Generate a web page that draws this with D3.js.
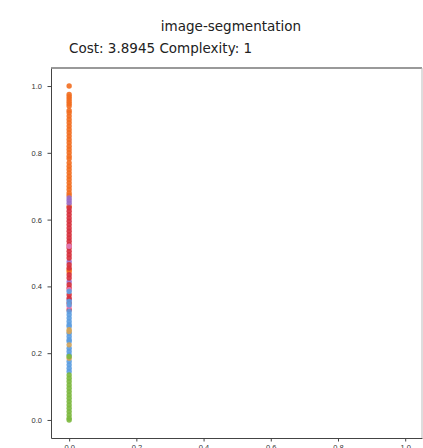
<!DOCTYPE html>
<html lang="en">
    <head>
        <meta charset="utf-8">
        <title>image-segmentation</title>
        <script type="text/javascript" src="https://d3js.org/d3.v7.min.js"></script>
        <style>
            body { margin: 0; background: #fff; }
            svg { display: block; font-family: "DejaVu Sans", sans-serif; }
            .axis text { font-size: 7.5px; fill: #333; }
            .axis path, .axis line { stroke: #444; }
        </style>
    </head>
    <body>
        <script>
            // data: all points sit at x = 0, one y list per class
            const yPath = [1.0, 0.975, 0.968, 0.961, 0.954, 0.947, 0.940, 0.927, 0.92, 0.91, 0.90, 0.89, 0.88,
                           0.87, 0.86, 0.85, 0.84, 0.83, 0.82, 0.81, 0.80, 0.79, 0.782, 0.77, 0.76, 0.75, 0.74,
                           0.73, 0.72, 0.71, 0.70, 0.69, 0.68, 0.672, 0.64, 0.444, 0.45];
            const yWindow = [0.665, 0.657, 0.649, 0.474, 0.414, 0.36];
            const yBrickface = [0.635, 0.625, 0.615, 0.605, 0.595, 0.585, 0.575, 0.565, 0.555, 0.545, 0.535,
                                0.525, 0.515, 0.505, 0.495, 0.485, 0.465, 0.455, 0.435, 0.425, 0.405, 0.395,
                                0.375, 0.365, 0.35, 0.33];
            const yCement = [0.52, 0.39, 0.34];
            const ySky = [0.385, 0.355, 0.345, 0.325, 0.315, 0.305, 0.295, 0.285, 0.28, 0.26, 0.25, 0.24,
                          0.235, 0.215, 0.205, 0.195, 0.175, 0.165, 0.155, 0.145];
            const yFoliage = [0.27, 0.265, 0.225, 0.185];
            const yGrass = [0.19, 0.135, 0.125, 0.115, 0.105, 0.095, 0.085, 0.075, 0.065, 0.055, 0.045,
                            0.035, 0.025, 0.015, 0.005, 0.0];
            const classNames = ["path", "window", "brickface", "cement", "sky", "foliage", "grass"];
            const classColors = ["#f26d1f", "#9a6cc4", "#d6303c", "#e07bb8", "#5c9de0", "#d2a35a", "#7cb83e"];
            const classValues = [yPath, yWindow, yBrickface, yCement, ySky, yFoliage, yGrass];
            const xTicks = [0.0, 0.2, 0.4, 0.6, 0.8, 1.0];
            const yTicks = [0.0, 0.2, 0.4, 0.6, 0.8, 1.0];

            const w = 423;
            const h = 448;
            const svg = d3.select("body")
                        .append("svg")
                        .attr("width", w)
                        .attr("height", h);

            // plot area edges
            const padLeft = 51, padRight = 422, padTop = 68, padBottom = 438;

            const xScale = d3.scaleLinear()
                            .domain([-0.054, 1.05])
                            .range([padLeft, padRight]);
            const yScale = d3.scaleLinear()
                            .domain([-0.054, 1.054])
                            .range([padBottom, padTop]);

            // titles
            svg.append("text")
                .attr("x", 231)
                .attr("y", 31)
                .attr("text-anchor", "middle")
                .style("font-size", "13.5px")
                .style("fill", "#222")
                .text("image-segmentation");
            svg.append("text")
                .attr("x", 69)
                .attr("y", 53)
                .style("font-size", "13.5px")
                .style("fill", "#222")
                .text("Cost: 3.8945 Complexity: 1");

            // points
            const points = [];
            classValues.forEach(function(vals, i) {
                vals.forEach(function(v) {
                    points.push({x: 0, y: v, c: classNames[i]});
                });
            });
            const color = d3.scaleOrdinal().domain(classNames).range(classColors);

            svg.append("g")
                .selectAll("circle")
                .data(points)
                .enter()
                .append("circle")
                .attr("cx", function(d) { return xScale(d.x); })
                .attr("cy", function(d) { return yScale(d.y); })
                .attr("r", 2.7)
                .attr("fill", function(d) { return color(d.c); })
                .attr("fill-opacity", 0.9);

            // axes
            const xAxis = d3.axisBottom(xScale)
                            .tickValues(xTicks)
                            .tickFormat(d3.format(".1f"))
                            .tickSize(3.5)
                            .tickSizeOuter(0);
            const yAxis = d3.axisLeft(yScale)
                            .tickValues(yTicks)
                            .tickFormat(d3.format(".1f"))
                            .tickSize(3.5)
                            .tickSizeOuter(0);

            svg.append("g")
                .attr("class", "x axis")
                .attr("transform", `translate(0,${padBottom})`)
                .call(xAxis)
                .call(g => g.selectAll("text").attr("dy", "0.71em").attr("y", 7));

            svg.append("g")
                .attr("class", "y axis")
                .attr("transform", `translate(${padLeft},0)`)
                .call(yAxis)
                .call(g => g.selectAll("text").attr("x", -9));

            // top and right spines
            svg.append("line")
                .attr("x1", padLeft).attr("x2", padRight)
                .attr("y1", padTop).attr("y2", padTop)
                .attr("stroke", "#777").attr("stroke-width", 1.4);
            svg.append("line")
                .attr("x1", padRight).attr("x2", padRight)
                .attr("y1", padTop).attr("y2", padBottom)
                .attr("stroke", "#bbb").attr("stroke-width", 1);
        </script>
    </body>
</html>
